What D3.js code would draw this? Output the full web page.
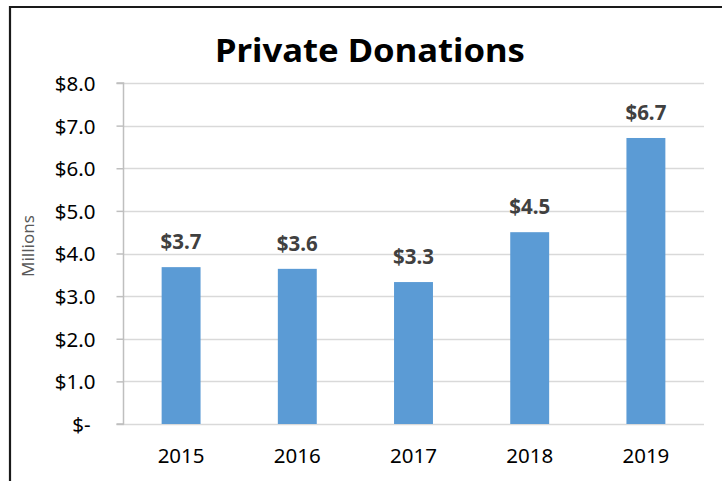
<!DOCTYPE html>
<html>
<head>
<meta charset="utf-8">
<script src="https://cdn.jsdelivr.net/npm/d3@7"></script>
<style>
  html, body { margin: 0; padding: 0; background: #fff; }
  svg { display: block; }
</style>
</head>
<body>
<svg id="chart" width="722" height="481"></svg>
<script>
const categories = ["2015", "2016", "2017", "2018", "2019"];
const values = [3.68, 3.64, 3.33, 4.50, 6.71];
const yTicks = [0, 1, 2, 3, 4, 5, 6, 7, 8];
const titleText = "Private Donations";
const yAxisTitle = "Millions";

const svg = d3.select("#chart");
const W = 722, H = 481;
const plot = { left: 123, right: 704, top: 83, bottom: 424 };
const font = "'Noto Sans', 'Open Sans', sans-serif";

svg.append("rect").attr("width", W).attr("height", H).attr("fill", "#fff");

// Frame (left + top border)
svg.append("path")
  .attr("d", `M10,${H} L10,7 L${W},7`)
  .attr("fill", "none").attr("stroke", "#1a1a1a").attr("stroke-width", 2.2);

const x = d3.scaleBand().domain(categories).range([plot.left, plot.right]).paddingInner(0.665).paddingOuter(0.3325);
const y = d3.scaleLinear().domain([0, 8]).range([plot.bottom, plot.top]);

// Gridlines
svg.append("g").selectAll("line").data(yTicks).join("line")
  .attr("x1", plot.left).attr("x2", plot.right)
  .attr("y1", d => Math.round(y(d)) + 0.5).attr("y2", d => Math.round(y(d)) + 0.5)
  .attr("stroke", "#d9d9d9").attr("stroke-width", 1.5);

// Y axis
const fmt = d => d === 0 ? "$-" : "$" + d3.format(".1f")(d);
const yAxis = d3.axisLeft(y).tickValues(yTicks).tickFormat(fmt).tickSize(7).tickPadding(20);
const gy = svg.append("g").attr("transform", `translate(${plot.left + 0.5},0)`).call(yAxis);
gy.select(".domain").attr("stroke", "#bfbfbf").attr("stroke-width", 1.5).attr("d", `M-7,${y(8)}H0V${y(0)}H-7`);
gy.selectAll(".tick line").attr("stroke", "#bfbfbf").attr("stroke-width", 1.5);
gy.selectAll(".tick text")
  .attr("font-family", font).attr("font-size", 20.5).attr("fill", "#000")
  .attr("x", d => d === 0 ? -33 : -28).attr("dy", "0.36em");

// Y axis title
svg.append("text")
  .attr("transform", `translate(34,${246}) rotate(-90)`)
  .attr("text-anchor", "middle")
  .attr("font-family", font).attr("font-size", 17).attr("fill", "#595959")
  .text(yAxisTitle);

// Bars
svg.append("g").selectAll("rect").data(values).join("rect")
  .attr("x", (d, i) => x(categories[i]))
  .attr("width", x.bandwidth())
  .attr("y", d => y(d))
  .attr("height", d => y(0) - y(d))
  .attr("fill", "#5b9bd5");

// Data labels
svg.append("g").selectAll("text").data(values).join("text")
  .attr("x", (d, i) => x(categories[i]) + x.bandwidth() / 2)
  .attr("y", d => y(d) - 18)
  .attr("text-anchor", "middle")
  .attr("font-family", font).attr("font-size", 20.5).attr("font-weight", "bold")
  .attr("fill", "#404040")
  .text(d => "$" + d3.format(".1f")(d));

// X axis labels
const xAxis = d3.axisBottom(x).tickSize(0).tickPadding(0);
const gx = svg.append("g").attr("transform", `translate(0,${plot.bottom})`).call(xAxis);
gx.select(".domain").remove();
gx.selectAll(".tick text")
  .attr("font-family", font).attr("font-size", 20.5).attr("fill", "#000")
  .attr("y", 39).attr("dy", 0);

// Title
svg.append("text")
  .attr("x", 370).attr("y", 62)
  .attr("text-anchor", "middle")
  .attr("font-family", font).attr("font-size", 33).attr("font-weight", "bold")
  .attr("fill", "#000")
  .attr("textLength", 310).attr("lengthAdjust", "spacingAndGlyphs")
  .text(titleText);
</script>
</body>
</html>
